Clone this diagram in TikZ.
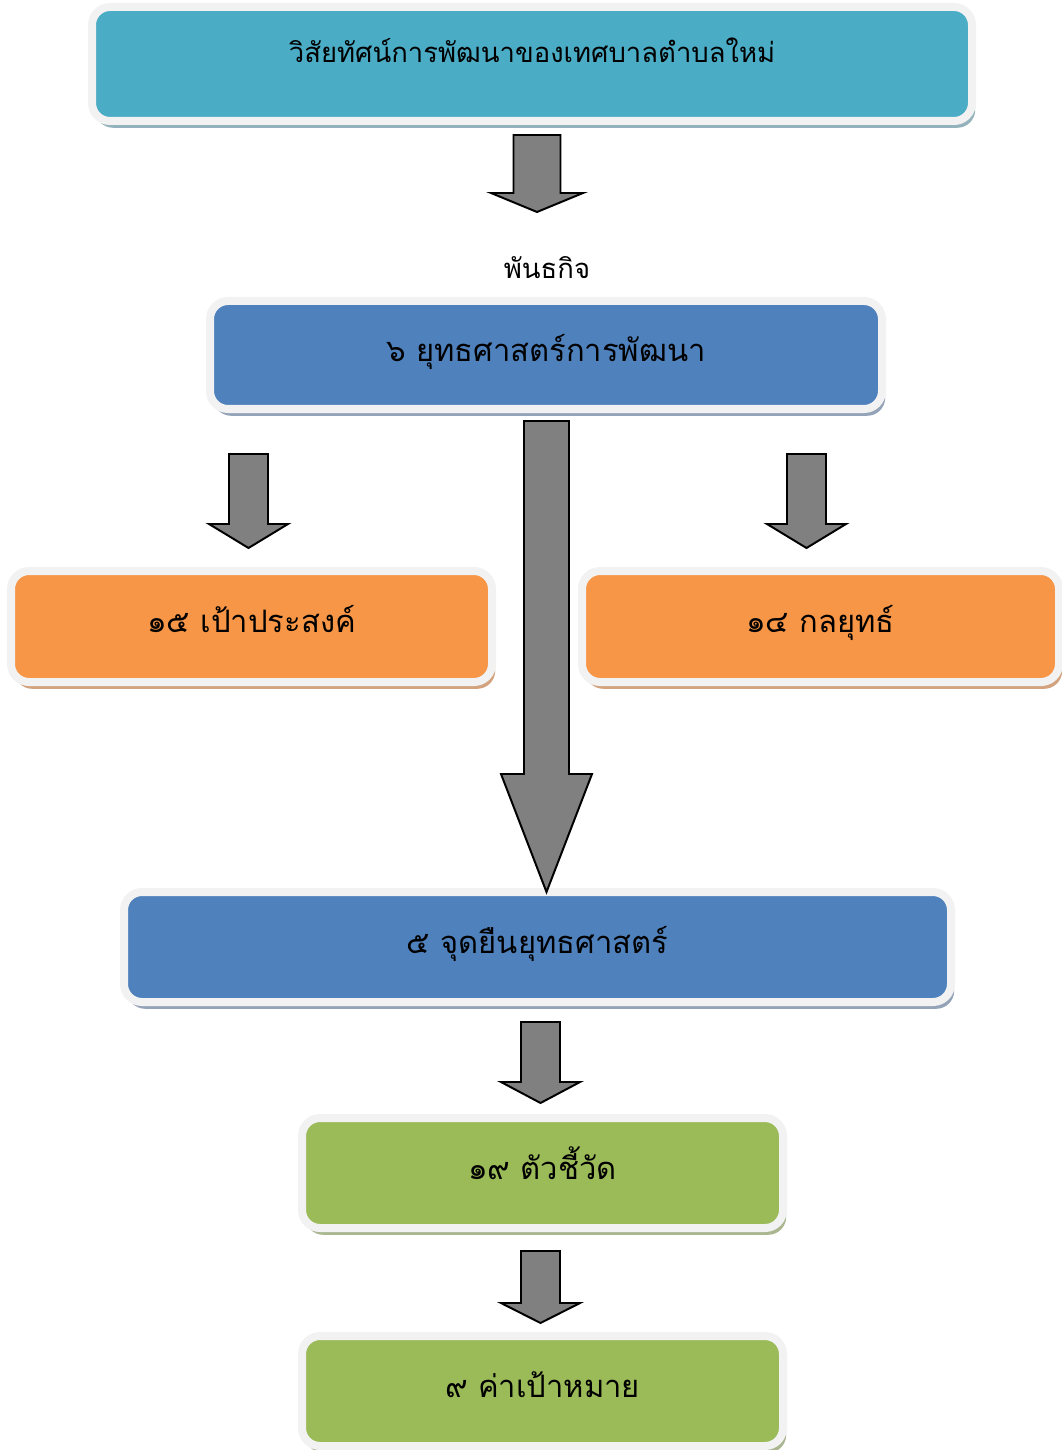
\documentclass[tikz,border=0pt]{standalone}
\usepackage{fontspec}
\setmainfont[Script=Thai]{Loma}
\usetikzlibrary{shadows}
\definecolor{framegray}{HTML}{F2F2F2}
\definecolor{tealcol}{HTML}{4BACC6}
\definecolor{tealshade}{HTML}{93B2BC}
\definecolor{bluecol}{HTML}{4F81BD}
\definecolor{blueshade}{HTML}{95A3B8}
\definecolor{orangecol}{HTML}{F79646}
\definecolor{orangeshade}{HTML}{D3A27E}
\definecolor{greencol}{HTML}{9BBB59}
\definecolor{greenshade}{HTML}{A9B68F}
\definecolor{arrowgray}{HTML}{808080}
% x, top, neck, tip, half shaft, half head
\newcommand{\blockarrow}[6]{%
\draw[arrowbody] (#1-#5,#2) -- (#1+#5,#2) -- (#1+#5,#3) -- (#1+#6,#3)
 -- (#1,#4) -- (#1-#6,#3) -- (#1-#5,#3) -- cycle;}

\begin{document}
\begin{tikzpicture}[x=0.025cm,y=-0.025cm,
 box/.style={rounded corners=0.45cm, draw=framegray, line width=0.2cm,
  inner sep=0pt, font=\fontsize{22}{26}\selectfont,
  text height=0.6cm, text depth=0.3cm},
 tealbox/.style={box, fill=tealcol, font=\fontsize{19.5}{24}\selectfont,
  text height=0.45cm, text depth=0.5cm,
  drop shadow={shadow xshift=0.08cm, shadow yshift=-0.17cm, fill=tealshade, opacity=1}},
 bluebox/.style={box, fill=bluecol,
  drop shadow={shadow xshift=0.08cm, shadow yshift=-0.17cm, fill=blueshade, opacity=1}},
 orangebox/.style={box, fill=orangecol,
  drop shadow={shadow xshift=0.08cm, shadow yshift=-0.17cm, fill=orangeshade, opacity=1}},
 greenbox/.style={box, fill=greencol,
  drop shadow={shadow xshift=0.08cm, shadow yshift=-0.17cm, fill=greenshade, opacity=1}},
 arrowbody/.style={fill=arrowgray, draw=black, line width=1.4pt, line join=miter}]
\useasboundingbox (0,0) rectangle (1062,1450);

\node[tealbox, minimum width=880*0.025cm, minimum height=114*0.025cm] (vision) at (532,64)
 {วิสัยทัศน์การพัฒนาของเทศบาลตำบลใหม่};
\node[font=\fontsize{19.5}{24}\selectfont] (mission) at (547,268) {พันธกิจ};
\node[bluebox, minimum width=672*0.025cm, minimum height=108*0.025cm] (strategy) at (546,355)
 {๖ ยุทธศาสตร์การพัฒนา};
\node[orangebox, minimum width=481*0.025cm, minimum height=111*0.025cm] (goals) at (251.5,626.5)
 {๑๕ เป้าประสงค์};
\node[orangebox, minimum width=477*0.025cm, minimum height=111*0.025cm] (tactics) at (820.5,626.5)
 {๑๔ กลยุทธ์};
\node[bluebox, minimum width=827*0.025cm, minimum height=110*0.025cm] (position) at (537.5,947)
 {๕ จุดยืนยุทธศาสตร์};
\node[greenbox, minimum width=481*0.025cm, minimum height=110*0.025cm] (indicators) at (542.5,1173)
 {๑๙ ตัวชี้วัด};
\node[greenbox, minimum width=481*0.025cm, minimum height=110*0.025cm] (targets) at (542.5,1391)
 {๙ ค่าเป้าหมาย};

\blockarrow{537}{135}{193}{212}{23.5}{46}
\blockarrow{248.5}{454}{524}{548}{19.5}{39.5}
\blockarrow{806.5}{454}{524}{548}{19.5}{39.5}
\blockarrow{546.5}{421}{774}{892}{22.5}{45.5}
\blockarrow{540.5}{1022}{1082}{1103}{19.5}{39.5}
\blockarrow{540.5}{1251}{1303}{1323}{19.5}{39.5}
\end{tikzpicture}
\end{document}
